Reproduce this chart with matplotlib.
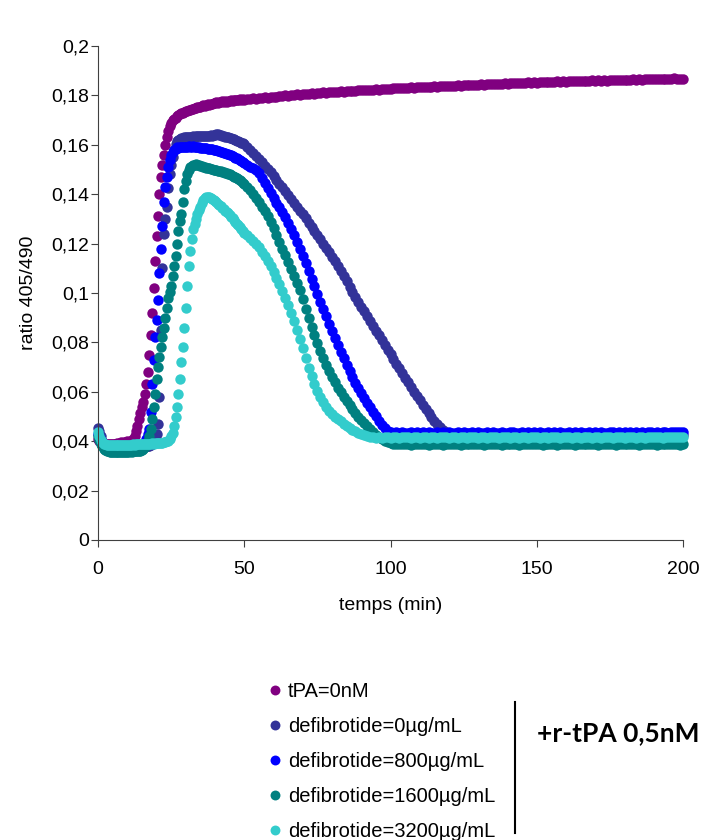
import numpy as np
import matplotlib
matplotlib.use("Agg")
import matplotlib.pyplot as plt
from matplotlib.ticker import FuncFormatter

plt.rcParams['font.family'] = ['Liberation Sans', 'DejaVu Sans']

# sampling times: every 30 s up to 50 min, then every minute
t_early = np.arange(0, 50, 0.5)
t_late = np.arange(50, 201, 1)

# tPA=0nM
tpa_early = [
    0.041, 0.040, 0.040, 0.0395, 0.039, 0.039, 0.039, 0.0388, 0.039, 0.0388,
    0.039, 0.0388, 0.039, 0.0392, 0.039, 0.0393, 0.0395, 0.0392, 0.0395, 0.0397,
    0.040, 0.0398, 0.040, 0.0402, 0.041, 0.042, 0.044, 0.046, 0.049, 0.0515,
    0.054, 0.056, 0.059, 0.063, 0.068, 0.075, 0.083, 0.092, 0.102, 0.113,
    0.123, 0.131, 0.140, 0.147, 0.152, 0.156, 0.160, 0.163, 0.1655, 0.1675,
    0.169, 0.170, 0.1705, 0.171, 0.1715, 0.172, 0.1725, 0.1728, 0.173, 0.1732,
    0.1735, 0.1738, 0.174, 0.1742, 0.1745, 0.1743, 0.1748, 0.175, 0.1752, 0.1755,
    0.1753, 0.1758, 0.176, 0.1758, 0.1762, 0.1765, 0.1763, 0.1767, 0.1765, 0.177,
    0.1768, 0.1772, 0.177, 0.1774, 0.1772, 0.1776, 0.1774, 0.1778, 0.1775, 0.1779,
    0.1777, 0.178, 0.1778, 0.1782, 0.178, 0.1783, 0.1781, 0.1784, 0.1782, 0.1785]
tpa_late = [
    0.1783, 0.1786, 0.1784, 0.1788, 0.1787, 0.179, 0.1789, 0.1792, 0.1791, 0.1794,
    0.1795, 0.1794, 0.1798, 0.1797, 0.18, 0.1799, 0.1802, 0.1801, 0.1804, 0.1803,
    0.1805, 0.1807, 0.1806, 0.1809, 0.1807, 0.181, 0.1809, 0.1812, 0.1811, 0.1813,
    0.1813, 0.1815, 0.1814, 0.1817, 0.1815, 0.1818, 0.1817, 0.1819, 0.1818, 0.1821,
    0.182, 0.1822, 0.1821, 0.1823, 0.1822, 0.1825, 0.1823, 0.1826, 0.1825, 0.1827,
    0.1827, 0.1829, 0.1828, 0.183, 0.1829, 0.1831, 0.183, 0.1833, 0.1831, 0.1834,
    0.1833, 0.1835, 0.1834, 0.1836, 0.1835, 0.1837, 0.1836, 0.1838, 0.1837, 0.1839,
    0.1838, 0.184, 0.1839, 0.1841, 0.184, 0.1842, 0.1841, 0.1843, 0.1842, 0.1844,
    0.1843, 0.1845, 0.1844, 0.1846, 0.1845, 0.1847, 0.1846, 0.1848, 0.1847, 0.1849,
    0.1848, 0.185, 0.1849, 0.1851, 0.185, 0.1852, 0.1851, 0.1853, 0.1851, 0.1853,
    0.1852, 0.1854, 0.1853, 0.1855, 0.1854, 0.1856, 0.1855, 0.1857, 0.1855, 0.1857,
    0.1856, 0.1858, 0.1857, 0.1859, 0.1857, 0.1859, 0.1858, 0.186, 0.1859, 0.1861,
    0.1859, 0.1861, 0.186, 0.1862, 0.186, 0.1862, 0.1861, 0.1863, 0.1862, 0.1864,
    0.1862, 0.1864, 0.1863, 0.1865, 0.1863, 0.1865, 0.1864, 0.1866, 0.1865, 0.1867,
    0.1865, 0.1867, 0.1866, 0.1868, 0.1866, 0.1868, 0.1867, 0.1869, 0.1867, 0.1868,
    0.1867]

# defibrotide=0µg/mL
d0_early = [
    0.0455, 0.044, 0.042, 0.040, 0.039, 0.038, 0.0375, 0.037, 0.037, 0.0368,
    0.0368, 0.0367, 0.0368, 0.0367, 0.0368, 0.037, 0.0368, 0.037, 0.0371, 0.037,
    0.0372, 0.0371, 0.0373, 0.0372, 0.0374, 0.0373, 0.0375, 0.0374, 0.0376, 0.0375,
    0.0377, 0.0376, 0.0378, 0.0379, 0.038, 0.0382, 0.0385, 0.039, 0.040, 0.0415,
    0.043, 0.047, 0.058, 0.085, 0.110, 0.124, 0.130, 0.135, 0.1425, 0.148,
    0.152, 0.155, 0.158, 0.1605, 0.1615, 0.162, 0.1625, 0.1627, 0.1628, 0.163,
    0.163, 0.1632, 0.1631, 0.1633, 0.1632, 0.1634, 0.1633, 0.1635, 0.1634, 0.1635,
    0.1634, 0.1636, 0.1635, 0.1636, 0.1635, 0.1637, 0.1636, 0.1638, 0.1637, 0.164,
    0.1638, 0.1642, 0.1645, 0.164, 0.1638, 0.1636, 0.1635, 0.1633, 0.1632, 0.163,
    0.1628, 0.1626, 0.1624, 0.1622, 0.162, 0.1617, 0.1615, 0.1612, 0.1609, 0.1606]
d0_late = [
    0.1603, 0.1592, 0.158, 0.1568, 0.1555, 0.1543, 0.153, 0.1516, 0.1502, 0.1488,
    0.1473, 0.1458, 0.1443, 0.1428, 0.1413, 0.1398, 0.1382, 0.1366, 0.135, 0.1334,
    0.1318, 0.1302, 0.1285, 0.1268, 0.1251, 0.1234, 0.1217, 0.12, 0.1182, 0.1165,
    0.1147, 0.1129, 0.111, 0.109, 0.107, 0.1048, 0.1025, 0.1005, 0.0985, 0.0965,
    0.0945, 0.0926, 0.0906, 0.0887, 0.0867, 0.0848, 0.0828, 0.0809, 0.079, 0.0771,
    0.0752, 0.0733, 0.0714, 0.0695, 0.0676, 0.0657, 0.0638, 0.062, 0.0601, 0.0583,
    0.0565, 0.0547, 0.053, 0.0513, 0.0497, 0.0482, 0.0468, 0.0456, 0.0446, 0.0437,
    0.043, 0.0426, 0.0424, 0.0423, 0.0425, 0.0422, 0.0424, 0.0423, 0.0425, 0.0422,
    0.0424, 0.0423, 0.0426, 0.0422, 0.0424, 0.0425, 0.0423, 0.0426, 0.0422, 0.0424,
    0.0425, 0.0423, 0.0424, 0.0426, 0.0422, 0.0424, 0.0425, 0.0423, 0.0427, 0.0424,
    0.0423, 0.0425, 0.0424, 0.0426, 0.0423, 0.0425, 0.0424, 0.0427, 0.0423, 0.0425,
    0.0424, 0.0426, 0.0423, 0.0425, 0.0427, 0.0424, 0.0423, 0.0426, 0.0424, 0.0425,
    0.0423, 0.0426, 0.0424, 0.0425, 0.0427, 0.0423, 0.0425, 0.0424, 0.0426, 0.0423,
    0.0425, 0.0424, 0.0427, 0.0423, 0.0425, 0.0426, 0.0424, 0.0423, 0.0426, 0.0425,
    0.0424, 0.0426, 0.0423, 0.0425, 0.0424, 0.0427, 0.0424, 0.0425, 0.0423, 0.0426,
    0.0425]

# defibrotide=800µg/mL
d800_early = [
    0.043, 0.042, 0.0405, 0.039, 0.038, 0.0375, 0.037, 0.0368, 0.0367, 0.0366,
    0.0367, 0.0366, 0.0368, 0.0367, 0.0368, 0.0369, 0.0368, 0.037, 0.0369, 0.0371,
    0.037, 0.0372, 0.0371, 0.0373, 0.0374, 0.0375, 0.0376, 0.0378, 0.038, 0.0382,
    0.0385, 0.039, 0.0398, 0.041, 0.043, 0.045, 0.052, 0.063, 0.073, 0.082,
    0.089, 0.097, 0.108, 0.118, 0.127, 0.137, 0.143, 0.147, 0.151, 0.154,
    0.156, 0.157, 0.158, 0.1585, 0.159, 0.1588, 0.1591, 0.159, 0.1592, 0.1591,
    0.1593, 0.1592, 0.1594, 0.1593, 0.1592, 0.1594, 0.1593, 0.1591, 0.1592, 0.159,
    0.1588, 0.1589, 0.1587, 0.1588, 0.1586, 0.1585, 0.1584, 0.1583, 0.1581, 0.158,
    0.1578, 0.1577, 0.1575, 0.1574, 0.1572, 0.157, 0.1568, 0.1566, 0.1564, 0.1562,
    0.156, 0.1557, 0.1554, 0.1551, 0.1548, 0.1545, 0.1542, 0.1538, 0.1535, 0.1531]
d800_late = [
    0.1527, 0.152, 0.1512, 0.1505, 0.1497, 0.1485, 0.1465, 0.1445, 0.1425, 0.1405,
    0.1385, 0.1366, 0.1347, 0.1327, 0.1306, 0.1283, 0.1259, 0.1234, 0.1208, 0.118,
    0.115, 0.112, 0.109, 0.1058, 0.1027, 0.0996, 0.0965, 0.0935, 0.0905, 0.0876,
    0.0847, 0.0818, 0.079, 0.0762, 0.0735, 0.0709, 0.0683, 0.0659, 0.0636, 0.0614,
    0.0594, 0.0574, 0.0555, 0.0537, 0.0519, 0.0501, 0.0483, 0.0466, 0.0452, 0.0442,
    0.0437, 0.0435, 0.0436, 0.0434, 0.0437, 0.0435, 0.0433, 0.0436, 0.0434, 0.0437,
    0.0435, 0.0436, 0.0434, 0.0438, 0.0435, 0.0433, 0.0436, 0.0435, 0.0437, 0.0434,
    0.0436, 0.0435, 0.0433, 0.0437, 0.0435, 0.0436, 0.0434, 0.0435, 0.0438, 0.0434,
    0.0436, 0.0433, 0.0435, 0.0437, 0.0434, 0.0436, 0.0435, 0.0433, 0.0437, 0.0435,
    0.0434, 0.0436, 0.0438, 0.0435, 0.0433, 0.0436, 0.0434, 0.0437, 0.0435, 0.0436,
    0.0434, 0.0437, 0.0435, 0.0433, 0.0436, 0.0435, 0.0438, 0.0434, 0.0436, 0.0435,
    0.0433, 0.0437, 0.0435, 0.0436, 0.0434, 0.0438, 0.0435, 0.0434, 0.0436, 0.0435,
    0.0437, 0.0434, 0.0436, 0.0435, 0.0433, 0.0437, 0.0436, 0.0434, 0.0438, 0.0435,
    0.0436, 0.0434, 0.0437, 0.0435, 0.0436, 0.0433, 0.0437, 0.0435, 0.0438, 0.0436,
    0.0434, 0.0437, 0.0435, 0.0436, 0.0438, 0.0435, 0.0437, 0.0436, 0.0439, 0.0437,
    0.0438]

# defibrotide=1600µg/mL
d1600_early = [
    0.042, 0.0405, 0.039, 0.038, 0.037, 0.0365, 0.0362, 0.036, 0.0358, 0.0358,
    0.0357, 0.0358, 0.0357, 0.0356, 0.0357, 0.0358, 0.0357, 0.0356, 0.0358, 0.0357,
    0.0358, 0.0357, 0.0359, 0.0358, 0.036, 0.0359, 0.036, 0.0361, 0.0362, 0.0362,
    0.0364, 0.0368, 0.0375, 0.0385, 0.040, 0.042, 0.045, 0.049, 0.054, 0.059,
    0.065, 0.070, 0.074, 0.078, 0.082, 0.086, 0.090, 0.094, 0.098, 0.1005,
    0.103, 0.107, 0.111, 0.115, 0.120, 0.125, 0.129, 0.132, 0.137, 0.142,
    0.1455, 0.148, 0.150, 0.151, 0.1515, 0.152, 0.152, 0.1522, 0.152, 0.1518,
    0.1515, 0.1513, 0.1512, 0.151, 0.1508, 0.1506, 0.1505, 0.1503, 0.1501, 0.15,
    0.1498, 0.1497, 0.1495, 0.1493, 0.1492, 0.149, 0.1488, 0.1486, 0.1485, 0.1482,
    0.148, 0.1477, 0.1474, 0.1471, 0.1468, 0.1464, 0.146, 0.1456, 0.1452, 0.1447]
d1600_late = [
    0.1442, 0.143, 0.1416, 0.1401, 0.1385, 0.1368, 0.135, 0.1331, 0.131, 0.1288,
    0.1262, 0.1236, 0.1208, 0.118, 0.1152, 0.1124, 0.1096, 0.1068, 0.104, 0.1012,
    0.0975, 0.0937, 0.0898, 0.0862, 0.0828, 0.0796, 0.0766, 0.0737, 0.071, 0.0684,
    0.066, 0.0638, 0.0617, 0.0598, 0.058, 0.0563, 0.0546, 0.053, 0.0515, 0.05,
    0.0486, 0.0473, 0.046, 0.0448, 0.0437, 0.0426, 0.0416, 0.0407, 0.04, 0.0395,
    0.0392, 0.039, 0.0388, 0.0389, 0.0387, 0.0389, 0.0388, 0.0386, 0.0389, 0.0388,
    0.0387, 0.0389, 0.0388, 0.0386, 0.0388, 0.0389, 0.0387, 0.0388, 0.0386, 0.0389,
    0.0388, 0.0387, 0.0389, 0.0388, 0.0386, 0.0388, 0.0389, 0.0387, 0.0388, 0.0389,
    0.0387, 0.0388, 0.0386, 0.0389, 0.0388, 0.0387, 0.0389, 0.0388, 0.0386, 0.0388,
    0.0389, 0.0387, 0.0388, 0.0389, 0.0386, 0.0388, 0.0387, 0.0389, 0.0388, 0.0387,
    0.0389, 0.0388, 0.0386, 0.0388, 0.0389, 0.0387, 0.0388, 0.0386, 0.0389, 0.0388,
    0.0387, 0.0389, 0.0388, 0.0386, 0.0388, 0.0389, 0.0387, 0.0388, 0.0389, 0.0387,
    0.0388, 0.0386, 0.0389, 0.0388, 0.0387, 0.0389, 0.0388, 0.0386, 0.0388, 0.0389,
    0.0387, 0.0388, 0.0389, 0.0387, 0.0388, 0.0386, 0.0389, 0.0388, 0.0387, 0.0389,
    0.0388, 0.0386, 0.0388, 0.0389, 0.0387, 0.0388, 0.0389, 0.0387, 0.0388, 0.0386,
    0.0388]

# defibrotide=3200µg/mL
d3200_early = [
    0.0437, 0.042, 0.0405, 0.0395, 0.039, 0.0387, 0.0385, 0.0384, 0.0384, 0.0383,
    0.0384, 0.0383, 0.0384, 0.0383, 0.0384, 0.0385, 0.0384, 0.0385, 0.0384, 0.0385,
    0.0385, 0.0386, 0.0385, 0.0386, 0.0387, 0.0386, 0.0387, 0.0388, 0.0387, 0.0388,
    0.0388, 0.0389, 0.0388, 0.0389, 0.039, 0.0389, 0.039, 0.0391, 0.039, 0.0391,
    0.0392, 0.0391, 0.0392, 0.0393, 0.0394, 0.0395, 0.0397, 0.0399, 0.0402, 0.0407,
    0.042, 0.0435, 0.046, 0.050, 0.054, 0.059, 0.065, 0.072, 0.078, 0.086,
    0.094, 0.103, 0.111, 0.117, 0.122, 0.126, 0.128, 0.130, 0.132, 0.1335,
    0.135, 0.1365, 0.1378, 0.1386, 0.139, 0.1389, 0.1387, 0.1384, 0.138, 0.1376,
    0.1371, 0.1367, 0.1362, 0.1357, 0.1352, 0.1346, 0.134, 0.1334, 0.1328, 0.1322,
    0.1315, 0.1309, 0.1302, 0.1295, 0.1288, 0.1281, 0.1274, 0.1267, 0.1259, 0.1251]
d3200_late = [
    0.1244, 0.1234, 0.1223, 0.1212, 0.12, 0.1185, 0.1168, 0.115, 0.113, 0.1108,
    0.1085, 0.1062, 0.1037, 0.101, 0.0981, 0.095, 0.0918, 0.0885, 0.085, 0.0815,
    0.0776, 0.0737, 0.0698, 0.0662, 0.063, 0.0602, 0.0578, 0.0557, 0.0539, 0.0524,
    0.0511, 0.0499, 0.0489, 0.048, 0.0471, 0.0463, 0.0455, 0.0447, 0.044, 0.0434,
    0.0428, 0.0424, 0.042, 0.0417, 0.0415, 0.0414, 0.0416, 0.0413, 0.0415, 0.0417,
    0.0414, 0.0416, 0.0415, 0.0413, 0.0416, 0.0415, 0.0417, 0.0414, 0.0415, 0.0416,
    0.0414, 0.0417, 0.0415, 0.0413, 0.0416, 0.0415, 0.0414, 0.0417, 0.0415, 0.0416,
    0.0413, 0.0415, 0.0417, 0.0414, 0.0416, 0.0415, 0.0413, 0.0416, 0.0415, 0.0417,
    0.0414, 0.0416, 0.0415, 0.0413, 0.0417, 0.0415, 0.0416, 0.0414, 0.0415, 0.0417,
    0.0416, 0.0414, 0.0415, 0.0417, 0.0413, 0.0416, 0.0415, 0.0414, 0.0416, 0.0415,
    0.0417, 0.0414, 0.0416, 0.0415, 0.0413, 0.0416, 0.0417, 0.0415, 0.0414, 0.0416,
    0.0415, 0.0417, 0.0414, 0.0416, 0.0415, 0.0413, 0.0416, 0.0415, 0.0417, 0.0414,
    0.0416, 0.0415, 0.0413, 0.0417, 0.0415, 0.0416, 0.0414, 0.0415, 0.0417, 0.0416,
    0.0414, 0.0416, 0.0415, 0.0417, 0.0414, 0.0416, 0.0415, 0.0413, 0.0416, 0.0415,
    0.0417, 0.0415, 0.0416, 0.0414, 0.0417, 0.0415, 0.0416, 0.0415, 0.0417, 0.0416,
    0.0415]

labels = ["tPA=0nM", "defibrotide=0µg/mL", "defibrotide=800µg/mL",
          "defibrotide=1600µg/mL", "defibrotide=3200µg/mL"]
colors = ["#800080", "#333399", "#0000ff", "#008080", "#33cccc"]
series = [(tpa_early, tpa_late), (d0_early, d0_late), (d800_early, d800_late),
          (d1600_early, d1600_late), (d3200_early, d3200_late)]

t = np.concatenate([t_early, t_late])

fig = plt.figure(figsize=(7.04, 8.40), dpi=100)
ax = fig.add_axes([98 / 704, 300 / 840, 585 / 704, 494 / 840])

for (early, late), c, lab in zip(series, colors, labels):
    y = np.concatenate([early, late])
    ax.plot(t, y, 'o', color=c, ms=7.5, mew=0, label=lab, clip_on=False)

ax.set_xlim(0, 200)
ax.set_ylim(0, 0.2)
ax.set_xticks([0, 50, 100, 150, 200])
ax.set_yticks(np.arange(0, 0.201, 0.02))
ax.yaxis.set_major_formatter(FuncFormatter(lambda v, p: f"{round(v, 2):g}".replace('.', ',')))
for s in ['top', 'right']:
    ax.spines[s].set_visible(False)
for s in ['left', 'bottom']:
    ax.spines[s].set_color('#404040')
ax.tick_params(direction='out', length=5, color='#404040', labelsize=14)
ax.tick_params(axis='y', pad=1.5)
ax.tick_params(axis='x', pad=10)
ax.set_xlabel("temps (min)", fontsize=14, labelpad=14)
ax.set_ylabel("ratio 405/490", fontsize=14, labelpad=10)

leg = fig.legend(loc='upper left', bbox_to_anchor=(269 / 704, 1 - 682 / 840),
                 frameon=False, fontsize=14.5, handlelength=0.6, handletextpad=0.35,
                 labelspacing=0.8, borderpad=0, borderaxespad=0, markerscale=0.95)

fig.add_artist(plt.Line2D([515 / 704, 515 / 704], [1 - 702 / 840, 1 - 833 / 840],
                          color='black', lw=1.5))
fig.text(537 / 704, 1 - 733 / 840, "+r-tPA 0,5nM", fontsize=19, fontweight='bold',
         family=['Lato', 'DejaVu Sans'], va='center', ha='left')

fig.savefig("out.png", dpi=100)
